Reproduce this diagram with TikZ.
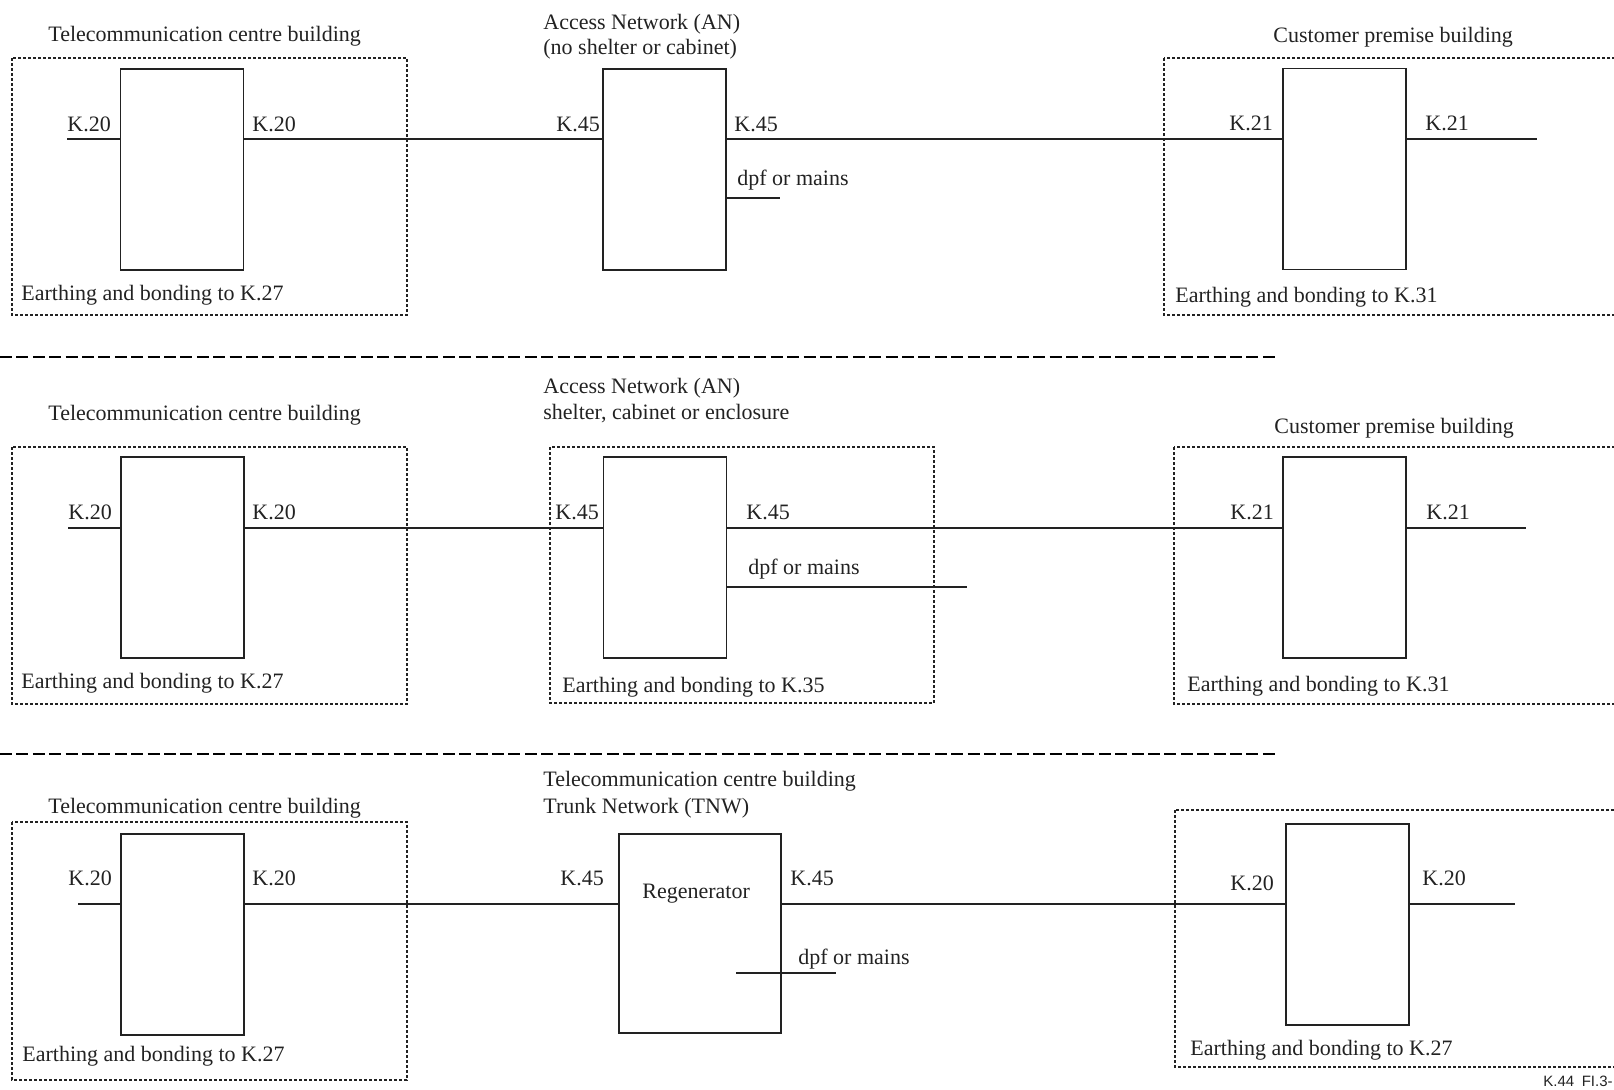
\documentclass[tikz,border=0pt]{standalone}
\usepackage{fontspec}
\setmainfont{Liberation Serif}
\newfontfamily\tagfont{Liberation Sans}
\definecolor{ink}{HTML}{222222}
\tikzset{
  unit/.style={rectangle, draw=ink, line width=0.7pt, minimum width=61.5pt, minimum height=100.5pt, inner sep=0pt},
  txt/.style={anchor=base west, inner sep=0pt, font=\fontsize{11}{13}\selectfont, text=ink},
  zone/.style={draw=ink, line width=0.8pt, dash pattern=on 1.5pt off 1pt},
  wire/.style={draw=ink, line width=0.7pt},
  sep/.style={draw=black, line width=1.1pt, dash pattern=on 6pt off 2.2pt},
}

\begin{document}
\begin{tikzpicture}[x=0.5pt, y=-0.5pt]
\useasboundingbox (0,0) rectangle (1614,1089);

% case 1: AN with no shelter
\draw[zone] (12,58) rectangle (407,315);
\draw[zone] (1164,58) rectangle (1640,315);
\node[unit] (tA) at (182,169.5) {};
\node[unit] (nA) at (664.5,169.5) {};
\node[unit] (cA) at (1344.5,169) {};
\coordinate (inA) at (67,139);
\coordinate (outA) at (1537,139);
\coordinate (pwA) at (780,198);
\draw[wire] (inA) -- (inA -| tA.west);
\draw[wire] (tA.east |- inA) -- (nA.west |- inA);
\draw[wire] (nA.east |- inA) -- (cA.west |- inA);
\draw[wire] (cA.east |- inA) -- (outA);
\draw[wire] (nA.east |- pwA) -- (pwA);
\node[txt] (hdA) at (48,41) {Telecommunication centre building};
\node[txt] (kA1) at (67,131) {K.20};
\node[txt] (kA2) at (252,131) {K.20};
\node[txt] (eA1) at (21,300) {Earthing and bonding to K.27};
\node[txt] (anA1) at (543,29) {Access Network (AN)};
\node[txt] (anA2) at (543,54) {(no shelter or cabinet)};
\node[txt] (kA3) at (556,131) {K.45};
\node[txt] (kA4) at (734,131) {K.45};
\node[txt] (dpA) at (737,185) {dpf or mains};
\node[txt] (cpA) at (1273,42) {Customer premise building};
\node[txt] (kA5) at (1229,130) {K.21};
\node[txt] (kA6) at (1425,130) {K.21};
\node[txt] (eA2) at (1175,302) {Earthing and bonding to K.31};

\draw[sep] (0,357) -- (1279,357);

% case 2: AN in shelter, cabinet or enclosure
\draw[zone] (12,447) rectangle (407,704);
\draw[zone] (550,447) rectangle (934,703);
\draw[zone] (1174,447) rectangle (1640,704);
\node[unit] (tB) at (182.5,557.5) {};
\node[unit] (nB) at (665,557.5) {};
\node[unit] (cB) at (1344.5,557.5) {};
\coordinate (inB) at (68,528);
\coordinate (outB) at (1526,528);
\coordinate (pwB) at (967,587);
\draw[wire] (inB) -- (inB -| tB.west);
\draw[wire] (tB.east |- inB) -- (nB.west |- inB);
\draw[wire] (nB.east |- inB) -- (cB.west |- inB);
\draw[wire] (cB.east |- inB) -- (outB);
\draw[wire] (nB.east |- pwB) -- (pwB);
\node[txt] (hdB) at (48,420) {Telecommunication centre building};
\node[txt] (kB1) at (68,519) {K.20};
\node[txt] (kB2) at (252,519) {K.20};
\node[txt] (eB1) at (21,688) {Earthing and bonding to K.27};
\node[txt] (anB1) at (543,393) {Access Network (AN)};
\node[txt] (anB2) at (543,419) {shelter, cabinet or enclosure};
\node[txt] (kB3) at (555,519) {K.45};
\node[txt] (kB4) at (746,519) {K.45};
\node[txt] (dpB) at (748,574) {dpf or mains};
\node[txt] (eB2) at (562,692) {Earthing and bonding to K.35};
\node[txt] (cpB) at (1274,433) {Customer premise building};
\node[txt] (kB5) at (1230,519) {K.21};
\node[txt] (kB6) at (1426,519) {K.21};
\node[txt] (eB3) at (1187,691) {Earthing and bonding to K.31};

\draw[sep] (0,754) -- (1279,754);

% case 3: regenerator in trunk network
\draw[zone] (12,822) rectangle (407,1080);
\draw[zone] (1175,810) rectangle (1640,1067);
\node[unit] (tC) at (182.5,934.5) {};
\node[unit, minimum width=81pt, minimum height=99.5pt] (rC) at (700,933.5) {};
\node[unit] (cC) at (1347.5,924.5) {};
\coordinate (inC) at (78,904);
\coordinate (outC) at (1515,904);
\coordinate (pwC0) at (736,973);
\coordinate (pwC1) at (836,973);
\draw[wire] (inC) -- (inC -| tC.west);
\draw[wire] (tC.east |- inC) -- (rC.west |- inC);
\draw[wire] (rC.east |- inC) -- (cC.west |- inC);
\draw[wire] (cC.east |- inC) -- (outC);
\draw[wire] (pwC0) -- (pwC1);
\node[txt] (hdC) at (48,813) {Telecommunication centre building};
\node[txt] (kC1) at (68,885) {K.20};
\node[txt] (kC2) at (252,885) {K.20};
\node[txt] (eC1) at (22,1061) {Earthing and bonding to K.27};
\node[txt] (trC1) at (543,786) {Telecommunication centre building};
\node[txt] (trC2) at (543,813) {Trunk Network (TNW)};
\node[txt] (kC3) at (560,885) {K.45};
\node[txt] (kC4) at (790,885) {K.45};
\node[txt] (rgC) at (642,898) {Regenerator};
\node[txt] (dpC) at (798,964) {dpf or mains};
\node[txt] (kC5) at (1230,890) {K.20};
\node[txt] (kC6) at (1422,885) {K.20};
\node[txt] (eC2) at (1190,1055) {Earthing and bonding to K.27};
\node[txt, font=\tagfont\fontsize{7.5}{9}\selectfont] (tag) at (1543,1086) {K.44\enspace FI.3-};
\end{tikzpicture}
\end{document}
